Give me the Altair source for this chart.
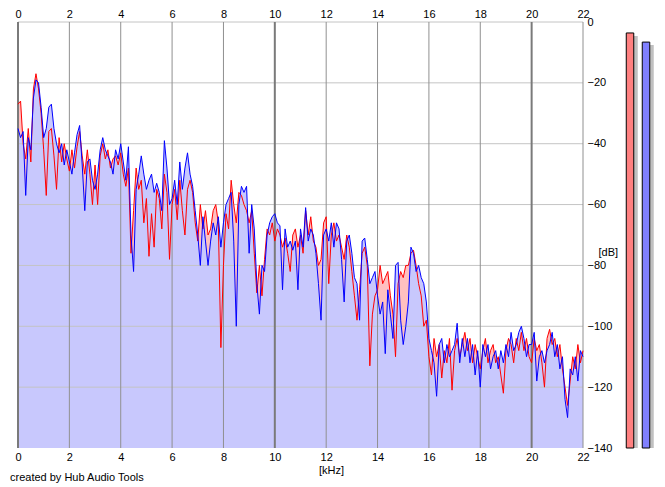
import altair as alt
import pandas as pd

# ---------------- data ----------------
freq_khz = [round(i * 0.1, 1) for i in range(221)]

left_db = [
    -27, -26, -40, -45, -35, -46, -22, -17, -22, -30,
    -42, -57, -36, -35, -44, -55, -38, -46, -40, -45,
    -49, -42, -48, -41, -36, -44, -50, -42, -50, -60,
    -47, -60, -44, -40, -45, -42, -48, -45, -44, -47,
    -43, -50, -54, -48, -76, -62, -48, -55, -52, -66,
    -58, -77, -63, -74, -55, -58, -68, -50, -56, -78,
    -60, -55, -65, -52, -62, -70, -55, -52, -56, -66,
    -72, -60, -68, -62, -70, -68, -62, -60, -66, -107,
    -80, -63, -68, -52, -60, -66, -56, -57, -60, -62,
    -66, -62, -76, -89, -80, -90, -78, -68, -70, -66,
    -72, -68, -70, -74, -71, -76, -82, -70, -68, -74,
    -70, -76, -62, -70, -64, -72, -74, -80, -78, -66,
    -64, -86, -70, -66, -72, -70, -74, -78, -70, -74,
    -82, -90, -98, -88, -76, -74, -80, -113, -96, -90,
    -88, -80, -86, -84, -82, -90, -96, -110, -86, -82,
    -84, -80, -80, -76, -75, -80, -86, -90, -100, -98,
    -110, -116, -104, -110, -106, -117, -108, -112, -104, -121,
    -108, -104, -110, -106, -102, -108, -104, -112, -106, -110,
    -114, -108, -104, -112, -108, -106, -112, -110, -116, -122,
    -108, -104, -106, -112, -104, -108, -102, -108, -104, -110,
    -112, -104, -108, -106, -112, -120, -104, -101, -106, -104,
    -110, -106, -114, -120, -126, -118, -110, -114, -106, -112,
    -108,
]

right_db = [
    -35, -38, -36, -57, -38, -42, -25, -19, -20, -28,
    -38, -35, -28, -27, -35, -40, -43, -40, -47, -42,
    -46, -50, -43, -37, -34, -47, -62, -46, -45, -52,
    -55, -50, -42, -38, -42, -44, -46, -50, -42, -45,
    -40, -46, -52, -41, -70, -82, -55, -50, -44, -50,
    -55, -52, -50, -56, -53, -56, -62, -39, -48, -60,
    -58, -52, -60, -46, -55, -48, -43, -50, -54, -62,
    -70, -80, -64, -72, -80, -72, -66, -70, -64, -74,
    -66, -60, -58, -56, -72, -100, -60, -54, -56, -54,
    -76, -60, -68, -86, -96, -80, -82, -70, -66, -64,
    -63, -66, -67, -88, -68, -74, -72, -75, -72, -88,
    -68, -74, -61, -72, -68, -70, -76, -86, -98, -70,
    -68, -72, -66, -74, -66, -68, -78, -92, -72, -70,
    -76, -84, -86, -98, -72, -71, -78, -86, -84, -82,
    -90, -96, -92, -109, -88, -96, -104, -80, -79, -98,
    -106, -100, -92, -74, -76, -82, -80, -84, -86, -92,
    -104, -108, -112, -123, -106, -104, -112, -106, -110, -108,
    -106, -99, -112, -104, -110, -104, -112, -106, -116, -108,
    -120, -106, -110, -106, -114, -110, -108, -114, -108, -112,
    -106, -110, -102, -108, -106, -102, -100, -104, -110, -106,
    -106, -102, -118, -110, -108, -112, -108, -106, -102, -110,
    -106, -114, -110, -124, -130, -114, -116, -110, -118, -108,
    -110,
]

x_ticks = [0, 2, 4, 6, 8, 10, 12, 14, 16, 18, 20, 22]
x_major = [0, 10, 20]
x_minor = [2, 4, 6, 8, 12, 14, 16, 18, 22]
y_ticks = [0, -20, -40, -60, -80, -100, -120, -140]
y_grid = [0, -20, -40, -60, -80, -100, -120]

meter_channels = ["L", "R"]
meter_levels = [-3.6, -6.6]

# ---------------- chart ----------------
FONT = "Liberation Sans"
W, H = 565, 426

spec_df = pd.DataFrame({"f": freq_khz, "L": left_db, "R": right_db})
xs = alt.Scale(domain=[0, 22], nice=False, zero=False)
ys = alt.Scale(domain=[-140, 0], nice=False, zero=False)

common_axis = dict(
    grid=False, domain=False, ticks=False, tickSize=0,
    labelFont=FONT, labelFontSize=11, labelColor="black",
    labelFlush=False, labelOverlap=False,
    titleFont=FONT, titleFontSize=11, titleFontWeight="normal", titleColor="black",
)

bottom_axis = alt.Axis(orient="bottom", values=x_ticks, format="d", labelPadding=3,
                       titlePadding=2, titleX=313, **common_axis)
top_axis = alt.Axis(orient="top", values=x_ticks, format="d", labelPadding=3, **common_axis)
right_axis = alt.Axis(orient="right", values=y_ticks, format="d", labelPadding=4,
                      titleAngle=0, titleAlign="left", titleBaseline="middle",
                      titleX=15, titleY=230, **common_axis)

base = alt.Chart(spec_df)

red_area = base.mark_area(color="#ffc0c0", opacity=1).encode(
    x=alt.X("f:Q", scale=xs, axis=bottom_axis, title="[kHz]"),
    y=alt.Y("L:Q", scale=ys, axis=None),
    y2=alt.datum(-140),
)
blue_area = base.mark_area(color="#c8c8fd", opacity=1).encode(
    x=alt.X("f:Q", scale=xs, axis=top_axis, title=None),
    y=alt.Y("R:Q", scale=ys, axis=None),
    y2=alt.datum(-140),
)

hgrid = alt.Chart(pd.DataFrame({"db": y_grid})).mark_rule(
    color="#c4c4c4", strokeWidth=1
).encode(y=alt.Y("db:Q", scale=ys, axis=right_axis, title="[dB]"))

vminor = alt.Chart(pd.DataFrame({"f": x_minor})).mark_rule(
    color="#909090", strokeWidth=1
).encode(x=alt.X("f:Q", scale=xs, axis=None))

vmajor = alt.Chart(pd.DataFrame({"f": x_major})).mark_rule(
    color="#7a7a7a", strokeWidth=2
).encode(x=alt.X("f:Q", scale=xs, axis=None))

red_line = base.mark_line(color="#ff0000", strokeWidth=1).encode(
    x=alt.X("f:Q", scale=xs, axis=None),
    y=alt.Y("L:Q", scale=ys, axis=None),
)
blue_line = base.mark_line(color="#0000ff", strokeWidth=1).encode(
    x=alt.X("f:Q", scale=xs, axis=None),
    y=alt.Y("R:Q", scale=ys, axis=None),
)

spectrum = alt.layer(
    red_area, blue_area, hgrid, vminor, vmajor, red_line, blue_line
).resolve_axis(x="independent", y="independent")

# level meter to the right of the spectrum (its own band scale)
meter_df = pd.DataFrame({"ch": meter_channels, "level": meter_levels})
mx = alt.Scale(domain=meter_channels, range=[W + 39, W + 71],
               paddingInner=0, paddingOuter=0)

shadow = alt.Chart(meter_df).mark_bar(size=7.5, color="#c0c0c0", xOffset=4, yOffset=3).encode(
    x=alt.X("ch:N", scale=mx, axis=None),
    y=alt.Y("level:Q", scale=ys, axis=None),
    y2=alt.datum(-140),
)
bars = alt.Chart(meter_df).mark_bar(size=7.5, stroke="black", strokeWidth=1).encode(
    x=alt.X("ch:N", scale=mx, axis=None),
    y=alt.Y("level:Q", scale=ys, axis=None),
    y2=alt.datum(-140),
    color=alt.Color("ch:N", scale=alt.Scale(domain=meter_channels,
                                            range=["#ff8080", "#8080ff"]), legend=None),
)
meter = alt.layer(shadow, bars)

chart = alt.layer(spectrum, meter).resolve_scale(x="independent").resolve_axis(
    y="independent"
).properties(
    width=W, height=H,
    padding={"left": 2, "top": 0, "right": 0, "bottom": 0},
    background="white",
    title=alt.TitleParams(
        text="created by Hub Audio Tools", orient="bottom", anchor="start",
        frame="group", dx=-8, offset=-3, font=FONT, fontSize=11,
        fontWeight="normal", color="black",
    ),
).configure_view(strokeWidth=0)

chart.save("out.html", embed_options={"renderer": "svg", "actions": False})
